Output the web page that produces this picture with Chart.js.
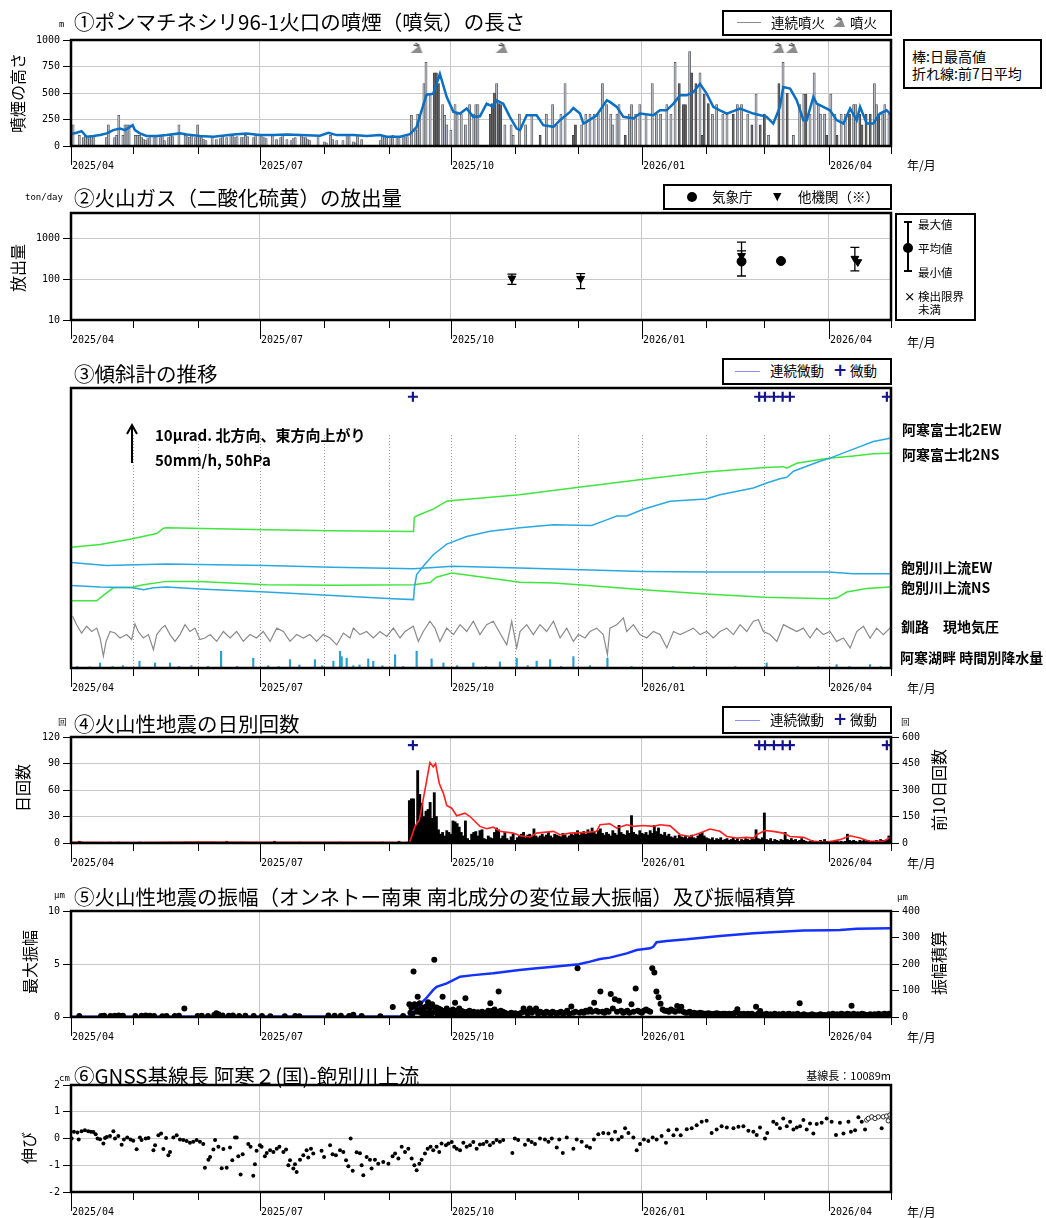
<!DOCTYPE html>
<html lang="ja">
<head>
<meta charset="utf-8">
<title>ポンマチネシリ 火山活動経過図</title>
<script src="https://cdn.jsdelivr.net/npm/chart.js@4.4.1/dist/chart.umd.min.js"></script>
<style>
html,body{margin:0;padding:0;background:#fff;}
#page{position:relative;width:1046px;height:1218px;overflow:hidden;background:#fff;font-family:"Noto Sans CJK JP","Noto Sans",sans-serif;color:#000;}
canvas{position:absolute;left:0;}
.tx{position:absolute;white-space:nowrap;line-height:1;}
.title{font-size:20.5px;}
.unit{font-family:"DejaVu Sans Mono",monospace;font-size:9px;}
.ylab{font-size:16px;transform:translate(-50%,-50%) rotate(-90deg);}
.ym{font-size:12px;}
.box{position:absolute;border:2px solid #000;background:#fff;box-sizing:border-box;}
.leg{font-size:13.5px;}
.side{font-size:14px;font-weight:700;}
.cross{color:#14148c;font-weight:700;font-size:17px;font-family:"DejaVu Sans",sans-serif;}
.sm{font-size:11.5px;}
</style>
</head>
<body>
<div id="page">
<canvas id="c1" width="1046" height="180" style="top:0px"></canvas>
<canvas id="c2" width="1046" height="175" style="top:180px"></canvas>
<canvas id="c3" width="1046" height="345" style="top:355px"></canvas>
<canvas id="c4" width="1046" height="180" style="top:700px"></canvas>
<canvas id="c5" width="1046" height="170" style="top:880px"></canvas>
<canvas id="c6" width="1046" height="168" style="top:1050px"></canvas>

<!-- panel 1 -->
<div class="tx unit" style="left:59px;top:20px">m</div>
<div class="tx title" style="left:74px;top:10.5px">①ポンマチネシリ96-1火口の噴煙（噴気）の長さ</div>
<div class="box" style="left:722px;top:10px;width:170px;height:26px"></div>
<div style="position:absolute;left:737px;top:22px;width:24px;border-top:1.5px solid #8a8a8a"></div>
<div class="tx leg" style="left:771px;top:15.5px">連続噴火</div>
<span id="legIcon" style="position:absolute;left:832px;top:16px"></span>
<div class="tx leg" style="left:850px;top:15.5px">噴火</div>
<div class="box" style="left:903px;top:39px;width:139px;height:50px"></div>
<div class="tx" style="left:912px;top:49px;font-size:14px">棒:日最高値</div>
<div class="tx" style="left:912px;top:66px;font-size:14px">折れ線:前7日平均</div>
<div class="tx ylab" style="left:17px;top:93px">噴煙の高さ</div>
<div class="tx ym" style="left:907px;top:158.5px">年/月</div>

<!-- panel 2 -->
<div class="tx unit" style="left:25px;top:193px">ton/day</div>
<div class="tx title" style="left:74px;top:186.5px">②火山ガス（二酸化硫黄）の放出量</div>
<div class="box" style="left:663px;top:184px;width:229px;height:26px"></div>
<div style="position:absolute;left:687px;top:192px;width:10px;height:10px;border-radius:50%;background:#000"></div>
<div class="tx leg" style="left:712px;top:189.5px">気象庁</div>
<div class="tx" style="left:773px;top:191px;font-size:11px;font-family:'DejaVu Sans',sans-serif">▼</div>
<div class="tx leg" style="left:798px;top:189.5px">他機関（※）</div>
<div class="box" style="left:895px;top:213px;width:81px;height:108px"></div>
<div style="position:absolute;left:907px;top:221px;width:1.5px;height:50px;background:#000"></div>
<div style="position:absolute;left:904px;top:221px;width:8px;height:1.5px;background:#000"></div>
<div style="position:absolute;left:904px;top:270px;width:8px;height:1.5px;background:#000"></div>
<div style="position:absolute;left:903px;top:243px;width:10px;height:10px;border-radius:50%;background:#000"></div>
<div class="tx sm" style="left:918px;top:219px">最大値</div>
<div class="tx sm" style="left:918px;top:243px">平均値</div>
<div class="tx sm" style="left:918px;top:267px">最小値</div>
<div class="tx sm" style="left:904px;top:291px;font-weight:700">×</div>
<div class="tx sm" style="left:918px;top:291px">検出限界</div>
<div class="tx sm" style="left:918px;top:304px">未満</div>
<div class="tx ylab" style="left:17px;top:268px">放出量</div>
<div class="tx ym" style="left:907px;top:335.5px">年/月</div>

<!-- panel 3 -->
<div class="tx title" style="left:74px;top:362.5px">③傾斜計の推移</div>
<div class="box" style="left:722px;top:358px;width:170px;height:27px"></div>
<div style="position:absolute;left:735px;top:371px;width:25px;border-top:1.5px solid #8c8cff"></div>
<div class="tx leg" style="left:770px;top:364px">連続微動</div>
<div class="tx cross" style="left:833px;top:362px">+</div>
<div class="tx leg" style="left:850px;top:364px">微動</div>
<div class="tx" style="left:155px;top:427px;font-size:15px;font-weight:700">10μrad. 北方向、東方向上がり</div>
<div class="tx" style="left:155px;top:452px;font-size:15px;font-weight:700">50mm/h, 50hPa</div>
<div class="tx side" style="left:902px;top:422px">阿寒富士北2EW</div>
<div class="tx side" style="left:902px;top:447px">阿寒富士北2NS</div>
<div class="tx side" style="left:901px;top:560px">飽別川上流EW</div>
<div class="tx side" style="left:901px;top:580px">飽別川上流NS</div>
<div class="tx side" style="left:901px;top:619px">釧路　現地気圧</div>
<div class="tx side" style="left:900px;top:650px">阿寒湖畔 時間別降水量</div>
<div class="tx ym" style="left:907px;top:681.5px">年/月</div>

<!-- panel 4 -->
<div class="tx unit" style="left:58px;top:718px">回</div>
<div class="tx title" style="left:74px;top:712.5px">④火山性地震の日別回数</div>
<div class="box" style="left:722px;top:706px;width:170px;height:28px"></div>
<div style="position:absolute;left:735px;top:720px;width:25px;border-top:1.5px solid #8c8cff"></div>
<div class="tx leg" style="left:770px;top:712.5px">連続微動</div>
<div class="tx cross" style="left:833px;top:711px">+</div>
<div class="tx leg" style="left:850px;top:712.5px">微動</div>
<div class="tx unit" style="left:901px;top:718px">回</div>
<div class="tx ylab" style="left:22px;top:788px">日回数</div>
<div class="tx ylab" style="left:938px;top:790px">前10日回数</div>
<div class="tx ym" style="left:907px;top:856.5px">年/月</div>

<!-- panel 5 -->
<div class="tx unit" style="left:54px;top:891px">μm</div>
<div class="tx title" style="left:74px;top:885.5px">⑤火山性地震の振幅（オンネトー南東 南北成分の変位最大振幅）及び振幅積算</div>
<div class="tx unit" style="left:897px;top:893px">μm</div>
<div class="tx ylab" style="left:29px;top:962px">最大振幅</div>
<div class="tx ylab" style="left:938px;top:963px">振幅積算</div>
<div class="tx ym" style="left:907px;top:1030.5px">年/月</div>

<!-- panel 6 -->
<div class="tx unit" style="left:59px;top:1074px">cm</div>
<div class="tx title" style="left:74px;top:1064.5px">⑥GNSS基線長 阿寒２(国)-飽別川上流</div>
<div class="tx" style="right:155px;top:1069.5px;font-size:11px">基線長：10089m</div>
<div class="tx ylab" style="left:28px;top:1148px">伸び</div>
<div class="tx ym" style="left:907px;top:1205.5px">年/月</div>
</div>

<script>
// ---- time axis: days counted from 2025-04-01 ----
const MONTH_STARTS = [0, 30, 61, 91, 122, 153, 183, 214, 244, 275, 306, 334, 365, 395];
const QUARTER_LABELS = {0: '2025/04', 91: '2025/07', 183: '2025/10', 275: '2026/01', 365: '2026/04'};
const X_MAX = 395;

// ---- ① plume height (m): daily maximum, split by bar shade ----
const smokeLight = [[0,200],[1,200],[4,100],[6,80],[7,100],[8,70],[9,90],[10,100],[11,90],[17,80],[18,200],[21,80],[22,100],[23,290],[25,100],[26,200],[27,200],[28,200],[31,100],[32,100],[33,100],[34,80],[35,60],[36,50],[37,70],[38,80],[40,100],[41,90],[43,80],[44,100],[45,50],[47,80],[48,100],[49,90],[52,200],[55,100],[56,90],[57,80],[58,100],[60,80],[61,200],[62,90],[63,80],[64,60],[65,50],[68,80],[70,60],[72,70],[73,100],[75,80],[77,100],[78,100],[79,80],[80,90],[82,80],[83,80],[84,100],[85,90],[88,80],[89,100],[91,100],[92,90],[93,80],[94,70],[97,100],[99,60],[101,80],[102,100],[104,60],[106,50],[107,70],[108,80],[111,100],[112,80],[113,80],[114,60],[115,50],[119,100],[122,40],[123,30],[125,100],[126,60],[128,50],[131,50],[133,100],[134,90],[136,40],[137,30],[138,100],[140,60],[149,50],[150,100],[151,90],[152,80],[154,90],[155,100],[157,80],[158,90],[160,100],[161,80],[162,90],
  [164,290],[166,150],[167,300],[168,290],[170,590],[171,790],[173,490],[179,390],[180,290],[181,200],[183,150],[185,390],[186,300],[188,300],[190,200],[192,390],[194,300],[195,390],[196,390],[205,590],[209,200],[212,200],[213,100],[216,300],[219,200],[222,300],[229,300],[232,390],[234,200],[236,300],[238,590],[246,200],[248,300],[250,300],[252,300],[254,300],[256,590],[258,390],[260,300],[261,200],[263,300],[264,390],[269,300],[270,390],[272,300],[274,390],[277,300],[280,590],[282,300],[284,300],[287,390],[289,300],[291,790],[298,890],[303,690],[309,300],[311,390],[314,300],[316,300],[321,390],[323,390],[326,300],[330,490],[336,100],[343,790],[348,100],[351,390],[353,490],[356,300],[358,690],[360,390],[361,300],[363,300],[366,490],[368,300],[371,300],[373,300],[377,390],[378,390],[387,590],[388,390],[391,300],[392,390],[394,300]];
const smokeDark = [[175,690],[176,690],[177,590],[202,300],[203,400],[204,500],[206,400],[207,390],[226,100],[242,100],[243,200],[267,100],[293,590],[295,390],[296,390],[299,690],[301,590],[304,100],[305,490],[307,400],[319,300],[328,200],[332,200],[334,300],[341,590],[345,500],[354,490],[364,100],[369,100],[375,300],[380,300],[381,200],[383,300],[385,300],[389,300]];
// 7-day running mean (m)
const smokeMean7 = [[0,112],[2.7,125],[5.1,140],[7.5,87],[10.8,94],[14,103],[17.2,119],[20.4,150],[23.6,165],[26,150],[29.7,197],[30.8,150],[33.2,119],[36.4,94],[41.3,94],[46.1,103],[52.5,119],[55.7,109],[62.1,94],[68.6,87],[78.2,109],[84.6,119],[91,103],[97.5,103],[103.9,109],[110.3,103],[119.9,97],[124,125],[128,103],[136,103],[142.4,94],[148.8,103],[152.1,87],[158.5,87],[163.3,112],[166.5,181],[168.9,337],[171.3,484],[174.5,494],[177.7,681],[181,462],[184.2,322],[187.4,306],[190.6,353],[193.8,275],[197,281],[200.2,400],[203.4,369],[205,431],[208.2,400],[211.4,275],[214.7,165],[216.3,150],[219.5,290],[224.3,290],[227.5,197],[232.4,181],[235.6,244],[240.4,322],[242,359],[245.2,306],[246.8,212],[248.4,228],[253.2,290],[258.1,431],[259.6,416],[262.9,369],[266.1,275],[270.9,259],[274.1,306],[280.5,290],[283.7,337],[286.9,337],[290.2,400],[293.4,478],[296.6,478],[299.8,509],[303,587],[306.2,494],[309.4,369],[312.6,337],[315.9,306],[322.3,353],[328.7,306],[335.1,275],[338.3,212],[341.5,369],[343.1,556],[346.4,541],[349.6,431],[352.8,244],[354.4,244],[357.6,462],[359.2,400],[362.4,369],[365.6,337],[368.8,244],[372.1,212],[375.3,353],[378.5,244],[380.1,369],[383.3,212],[386.5,212],[389.7,306],[392.9,337],[394.5,306]];
const eruptionDays = [166.4, 207.4, 340.7, 347.2];

// ---- ② SO2 emission (ton/day) ----
const gasJmaDays = [323, 342];
const gasJmaMean = [271, 280];
const gasJmaMin  = [120, null];
const gasJmaMax  = [815, null];
const gasOtherDays = [212.4, 245.5, 323, 377.6, 379];
const gasOtherMean = [105, 103, 375, 320, 265];
const gasOtherMin  = [75, 59, 300, 160, null];
const gasOtherMax  = [133, 137, 497, 600, null];

// ---- ③ tilt (µrad, relative); pressure and rain on the same scale: 50 hPa = 50 mm/h = 10 µrad ----
const tiltFujiEW = [[0,21.7],[14,21.3],[30,21.1],[35,20.6],[39.7,21.1],[46,21.3],[62,20.8],[94,20.0],[126,19.1],[155,18.2],[165,18.0],[165.4,21.1],[166.5,24.6],[170,27.0],[174.5,29.8],[181,32.6],[190.6,34.6],[201.8,36.0],[216.3,36.9],[232.4,37.7],[244.6,37.6],[250.8,37.5],[258,39.0],[262.9,40.0],[267.7,40.0],[275.7,41.8],[288.6,43.9],[305.9,44.5],[312.6,45.6],[328.7,47.4],[335.1,48.7],[341.5,49.8],[344.8,50.2],[348,51.8],[360.8,54.4],[365,55.1],[376.9,57.6],[386.5,59.6],[394.5,60.5]];
const tiltFujiNS = [[0,31.8],[14,32.5],[28.4,33.9],[41.3,35.4],[44.5,36.8],[46,36.9],[94,36.4],[126,36.1],[165,35.9],[165.4,39.7],[168,40.4],[174.5,41.8],[181,43.9],[184,44.1],[216,45.6],[244.6,47.6],[275.7,49.7],[305.9,51.6],[334.2,52.8],[343.1,53.0],[344.8,52.6],[349.6,53.9],[360.8,54.9],[365,55.2],[376.9,55.8],[386.5,56.4],[394.5,56.5]];
const tiltRiverEW = [[0,27.8],[17,27.0],[46,27.4],[94,27.0],[126,26.5],[165,26.1],[184,26.8],[216,26.3],[275.7,25.4],[305.9,25.3],[365,25.3],[376.9,24.8],[394.5,24.8]];
const tiltRiverNS = [[0,17.7],[12.4,17.7],[15.6,19.1],[20.4,21.1],[30,21.3],[34.8,21.9],[46,22.8],[62,22.8],[94,21.9],[126,21.8],[165,21.9],[173,22.5],[176,23.9],[183.4,25.0],[198.6,23.9],[216.3,22.6],[232.4,22.4],[244.6,21.9],[275.7,20.6],[305.9,19.5],[334.2,18.6],[365,18.2],[368.8,18.4],[373.7,20.0],[383.3,20.9],[394.5,21.3]];
const pressureTrace = [[0.8,13.6],[2.7,11.4],[5.1,9.2],[7.5,11.0],[10,9.6],[12.4,10.5],[14,7.9],[15.6,3.1],[16.9,7.0],[18.8,9.6],[21.2,9.2],[23.6,7.9],[26.8,8.8],[29.2,7.5],[30.8,11.6],[32.4,9.6],[34.8,7.9],[37.3,8.8],[39.7,4.8],[41.3,8.8],[43.7,10.5],[45.3,11.2],[47.7,8.8],[50.1,7.0],[52.5,8.8],[54.9,11.4],[57.3,9.6],[59.7,10.5],[62.1,7.5],[64.5,7.9],[67,8.8],[70.2,7.0],[73.4,9.6],[76.6,7.9],[79.8,9.6],[83,7.0],[86.2,8.8],[89.4,7.9],[92.6,9.6],[95.9,7.0],[99.1,10.5],[102.3,9.6],[105.5,7.0],[108.7,8.8],[111.9,7.9],[115.1,8.8],[118.3,7.0],[121.5,8.8],[124.8,7.9],[128,6.1],[131.2,9.2],[134.4,7.9],[136,10.5],[139.2,8.8],[142.4,9.6],[145.6,7.9],[148.8,9.6],[152.1,8.3],[155.3,10.5],[158.5,7.9],[160.9,9.6],[164.9,11.0],[167.3,7.0],[169.7,9.6],[172.9,12.3],[175.3,10.5],[177.7,7.0],[181,10.5],[184.2,8.8],[187.4,11.4],[190.6,9.6],[193.8,12.3],[197,8.8],[200.2,11.4],[203.4,12.3],[206.6,9.2],[209.9,6.1],[212.3,12.3],[214.7,5.3],[216.3,9.6],[219.5,11.4],[222.7,8.8],[225.9,11.4],[229.1,9.6],[232.4,12.3],[235.6,7.9],[238.8,10.5],[242,7.0],[244.4,8.8],[247.6,7.9],[250,9.6],[253.2,10.5],[256.4,8.8],[258.4,3.5],[259.6,10.5],[262.9,11.4],[266.1,13.2],[267.7,9.6],[270.9,11.4],[274.1,8.8],[277.3,7.9],[280.5,9.6],[283.7,8.8],[287,5.3],[290.2,9.6],[293.4,8.8],[296.6,9.6],[299.8,10.5],[303,8.8],[306.2,9.6],[309.4,7.9],[312.6,9.6],[315.9,10.5],[319.1,8.8],[322.3,11.4],[325.5,9.6],[328.7,12.3],[331.1,12.7],[333.5,9.6],[336.7,8.8],[340,7.0],[343.2,11.4],[346.4,10.5],[349.6,9.6],[352.8,10.5],[356,7.9],[359.2,10.5],[362.4,8.8],[365.6,9.6],[368.8,7.0],[372.1,7.9],[375.3,5.3],[378.5,9.6],[381.7,11.0],[384.9,7.9],[388.1,10.5],[391.3,8.8],[394.5,10.5]];
const rainHourly = [[3,2],[9,1.5],[14,6.6],[20,2],[25,3],[33,9],[40.5,6.6],[47.7,6.6],[52,2],[58,3],[66,2],[72.3,22],[80,2],[87.8,13],[95,3],[100,2],[105.5,11],[110,4],[117.5,11],[121,3],[126.4,9],[129.6,22],[130.4,15],[132.8,13],[136,3],[139,4],[143.2,12],[145.6,9],[150,3],[156.1,17.5],[160,2],[166.5,22],[173.7,12],[179.4,6.6],[186,3],[193.8,6.6],[200,2],[206.6,8],[214.7,13],[220,3],[224.3,9],[230.8,11],[236,2],[242,15],[250,3],[258.4,13],[270,2],[290,2],[300,2],[320,2],[335.1,6.6],[350,2],[360,2],[368.8,4.4],[375,2],[384.9,4.4],[390,2]];
const tremorDays = [164.7, 331.5, 334.3, 338.6, 342.8, 346.3, 393];

// ---- ④ volcanic earthquakes per day (from 2025-04-01) and 10-day totals ----
const quakeCounts = [
  0,0,0,0,2,1,0,0,0,0, 0,0,0,0,0,0,0,0,0,1, 0,0,0,1,0,0,0,0,0,0, 0,0,0,1,0,0,0,0,0,0,
  0,0,0,0,0,0,0,0,1,0, 0,0,0,0,0,1,0,0,0,0, 0,0,0,0,0,0,0,0,1,0, 0,0,0,0,0,2,0,0,0,0,
  0,0,1,0,0,0,0,0,0,0, 0,0,0,0,0,0,0,0,2,0, 0,0,0,0,0,0,0,0,0,0, 1,0,0,0,0,0,0,0,0,0,
  0,0,0,0,0,0,0,0,0,0, 1,0,0,0,0,0,0,0,0,0, 0,0,0,0,0,0,0,0,0,0, 1,0,0,0,0,0,0,0,2,0,
  0,0,1,48,50,50,20,82,55,45, 30,36,38,46,28,57,30,15,10,12, 8,14,12,10,25,24,22,18,12,8,
  25,5,3,10,12,13,8,14,15,5, 4,8,6,5,12,17,15,5,8,12, 5,3,7,10,3,6,8,10,12,6,
  9,10,7,16,8,6,8,10,7,9, 12,8,6,10,9,8,7,11,9,6, 8,10,9,12,14,9,11,13,10,15,
  12,17,12,10,14,16,11,9,12,10, 8,14,11,9,20,12,10,9,14,11, 31,12,10,9,14,11,10,12,9,14,
  11,20,13,17,10,9,12,8,10,7, 6,8,5,9,7,6,8,5,7,9, 6,5,8,10,12,8,6,5,4,6,
  3,5,4,6,3,4,5,3,4,6, 3,5,2,4,3,5,4,3,6,4, 15,5,4,6,34,4,3,5,2,4,
  3,2,4,3,12,4,3,5,3,4, 2,3,5,3,2,1,2,3,1,2, 1,3,2,4,2,1,2,1,2,3,
  1,2,1,2,10,3,2,3,2,1, 3,2,4,2,3,2,1,2,3,2, 4,3,2,3,8
];
const quake10Day = [[0,4],[30,3],[60,5],[90,4],[120,4],[150,4],[162,3],[163,0],[165.7,94],[167.8,131],[170.5,300],[172.9,456],[174.5,431],[175.6,450],[177.4,337],[179.4,281],[181,212],[183.4,197],[185.8,154],[189.8,169],[192.2,150],[197,94],[200.2,81],[203.4,90],[206.6,66],[213,56],[216.3,41],[221.1,34],[224.3,56],[232.4,66],[235.6,47],[240.4,56],[248.4,60],[253.2,66],[254.8,103],[259.6,109],[262.9,84],[267.7,103],[270.9,94],[275.7,99],[280.5,94],[283.7,103],[288.6,97],[293.4,47],[298.2,37],[303,56],[307.8,79],[312.6,66],[315.9,37],[320.7,28],[325.5,32],[328.7,28],[330.3,47],[334.3,71],[338.3,66],[343.1,56],[346.4,37],[352.8,32],[357.6,9],[364,4],[370.4,19],[375.3,41],[380.1,28],[384.9,9],[391.3,9],[394.5,32]];

// ---- ⑤ maximum amplitude (µm) and cumulative amplitude (µm) ----
const ampQuiet = [[4,0.1],[14.5,0.1],[16,0.12],[19,0.1],[21,0.12],[23,0.15],[25,0.12],[31,0.1],[34,0.12],[36,0.15],[38,0.12],[40,0.1],[44,0.08],[46,0.1],[50,0.1],[52,0.12],[54.6,0.8],[61,0.1],[63,0.12],[66,0.1],[69,0.18],[70,0.35],[71,0.25],[73,0.15],[76,0.12],[78,0.15],[81,0.1],[84,0.12],[88,0.1],[92,0.1],[96,0.08],[103,0.08],[108,0.1],[110,0.08],[124,0.15],[127,0.12],[130,0.12],[134,0.1],[136,0.22],[140,0.1],[149,0.08],[155,0.95],[160,0.1]];
const ampFirstDay = 163;
const ampDailyMax = [
  1.2,0.9,4.3,1.0,1.9,1.3,0.9,0.8,1.0,1.4, 0.9,1.2,5.4,0.9,0.8,0.7,1.9,0.6,0.8,0.5,
  0.6,0.7,1.35,0.6,0.8,0.6,0.5,1.76,0.5,0.6, 0.4,0.5,0.35,0.45,0.3,0.5,0.4,0.3,0.6,1.3,
  0.6,0.7,0.5,2.4,0.6,0.5,0.4,0.3,0.25,0.4, 0.3,0.35,0.2,0.3,
  0.4,0.8,0.5,0.3,0.8,0.4,0.6,0.8,0.3,0.5, 0.4,0.3,0.5,0.4,0.3,0.5,0.4,0.3,0.4,0.5,
  0.3,0.4,0.6,0.3,1.0,0.4,0.5,4.6,0.4,0.5, 0.4,0.6,0.5,0.7,0.5,1.35,0.6,0.5,2.4,0.5,
  0.4,0.6,0.5,2.17,0.8,1.67,0.5,1.54,0.6,0.4, 0.5,0.6,0.4,1.2,0.5,2.7,0.6,0.5,0.4,0.6,
  0.7,0.6,0.5,4.6,4.2,2.4,1.86,1.26,0.7,0.6, 0.6,0.5,0.7,0.6,0.5,1.04,0.6,0.97,0.5,0.4,
  0.4,0.5,0.3,0.4,0.35,0.3,0.4,0.35,0.3,0.3, 0.35,0.3,0.25,0.3,0.35,0.3,0.25,0.3,0.3,0.25,
  0.3,0.25,0.3,0.4,0.72,0.3,0.25,0.3,0.2,0.3, 0.25,0.3,0.2,0.97,0.3,0.57,0.25,0.2,0.3,0.2,
  0.25,0.2,0.3,0.2,0.25,0.2,0.3,0.2,0.25,0.3, 0.2,0.25,0.2,0.3,1.3,0.2,0.25,0.2,0.15,0.2,
  0.25,0.2,0.15,0.2,0.25,0.2,0.2,0.15,0.25,0.2, 0.3,0.2,0.25,0.2,0.3,0.25,0.2,0.3,0.25,1.07,
  0.3,0.2,0.25,0.2,0.3,0.25,0.2,0.2,0.25,0.2, 0.25,0.2,0.3,0.2,0.25,0.3,0.2,0.3
];
const ampDailyLow = [
  0.4,0.3,1.2,0.5,0.6,0.4,0.3,0.4,0.3,0.5, 0.3,0.4,0.8,0.3,0.3,0.3,0.5,0.2,0.3,0.2,
  0.2,0.3,0.4,0.2,0.3,0.2,0.2,0.4,0.2,0.2, 0.15,0.2,0.1,0.2,0.1,0.2,0.15,0.1,0.2,0.3,
  0.2,0.3,0.2,0.4,0.2,0.2,0.15,0.1,0.1,0.15
];
const ampCumulative = [[0,1],[163,3],[164.5,14],[167.8,45],[171,70],[174.5,102],[176.1,114],[181,127],[187.4,152],[193.8,158],[203.4,165],[216,177],[224.3,184],[232.4,190],[244.6,199],[250,209],[254.8,219],[259.6,224],[267.7,240],[272.5,253],[278.9,259],[280.5,265],[282.1,282],[287,287],[296.6,293],[312.6,306],[328.7,316],[335.1,319],[352.8,326],[365,327],[370.4,328],[378.5,333],[394.5,335]];

// ---- ⑥ GNSS baseline change (cm); the last days are preliminary ----
const gnssFinal = [[0.3,0],[1.4,0.25],[3.1,0.22],[3.7,-0.04],[5.1,0.27],[6.7,0.31],[8.3,0.27],[9.6,0.25],[10.8,0.24],[11.9,0.16],[12.8,0],[14,-0.03],[15.6,-0.19],[16.4,0.02],[17.2,0.06],[18.8,0.09],[20.4,0.27],[21.2,0],[22.8,0.09],[24.4,-0.23],[25.5,-0.04],[27.1,0.04],[28.7,-0.04],[30,-0.08],[31.6,-0.4],[33.2,0.04],[34,-0.06],[36,0],[37.3,0.02],[39.7,-0.44],[40.5,-0.25],[42.1,0.12],[43.4,0.19],[44.5,-0.39],[45.8,0.02],[46.9,-0.63],[47.7,-0.5],[49.3,0.04],[50.9,0.12],[52.5,-0.04],[54.1,-0.06],[55.7,-0.09],[57.3,-0.16],[58.9,-0.12],[60.5,-0.06],[62.1,-0.12],[63.7,-0.21],[64.5,-1.09],[66.2,-0.79],[67,-0.69],[68.6,-0.41],[69.4,-0.06],[71,-0.31],[72.6,-1.11],[73.4,-0.39],[75,-1.09],[76.6,-0.34],[77.7,-0.81],[79,0.04],[79.8,0.04],[80.6,-0.66],[81.7,-1.35],[82.7,-0.59],[85.4,-0.21],[86.5,-0.31],[87.8,-1.39],[88.6,-0.96],[89.4,-0.46],[91,-0.25],[91.8,-0.31],[93.4,-0.66],[94.3,-0.54],[95.9,-0.44],[97.5,-0.5],[99.1,-0.38],[100.4,-0.31],[102.3,-0.5],[103.6,-0.41],[104.7,-1],[105.5,-0.81],[107.1,-1.12],[107.9,-0.96],[108.7,-1.25],[110.3,-0.79],[111.9,-0.63],[113.5,-0.44],[114.3,-0.71],[115.6,-0.38],[116.7,-0.56],[120.7,-0.46],[121.9,-0.69],[124.8,-0.25],[126,-0.59],[127.6,-0.63],[129.6,-0.44],[131.2,-0.5],[132.5,-0.81],[133.6,-1.04],[134.7,0],[135.7,-1.21],[137.6,-0.51],[139.2,-0.55],[140,-1],[140.8,-1.37],[142.4,-0.69],[144,-0.79],[144.8,-1.12],[146.4,-0.79],[148,-0.94],[150.4,-0.88],[152.9,-0.94],[154.9,-0.66],[156.1,-0.56],[157.7,-0.75],[159.3,-0.31],[160.9,-0.5],[162.5,-0.38],[164.1,-0.75],[165.4,-1],[166.5,-1.19],[167.8,-0.94],[168.9,-0.79],[170.5,-0.56],[171.8,-0.38],[173.2,-0.31],[174.5,-0.44],[176.1,-0.31],[177.4,-0.5],[178.5,-0.19],[180.6,-0.25],[181.8,-0.19],[183.4,-0.13],[184.6,-0.31],[185.8,-0.38],[187.4,-0.44],[189,-0.16],[190.6,-0.31],[192.2,-0.25],[193.8,-0.13],[195.4,-0.38],[197,-0.22],[198.6,-0.21],[200.2,-0.12],[201.8,-0.25],[203.4,-0.16],[205,-0.06],[206.6,-0.12],[208.2,-0.06],[212.6,-0.54],[213.8,0],[215.4,-0.06],[218.7,-0.23],[220.3,-0.06],[221.9,-0.13],[223.5,-0.21],[225.9,0],[228.3,-0.04],[230,-0.12],[231.6,0],[234,-0.34],[235.2,-0.04],[236.9,-0.54],[238.8,0.04],[242,-0.38],[243.6,-0.04],[246,-0.12],[248.4,-0.29],[250,-0.35],[251.9,-0.04],[254,0.16],[256.4,0.21],[258.9,0.19],[260.5,-0.04],[262.1,0.25],[263.7,-0.04],[265.3,0.06],[266.9,0.38],[268.5,0.21],[270.9,0.04],[272.5,-0.44],[274.1,-0.21],[276,-0.04],[278.1,-0.09],[280.2,0.04],[282.1,-0.04],[284.5,0.09],[286.6,-0.16],[287.8,0.31],[290.2,0.12],[291.8,0.34],[293.7,0.12],[296.6,0.35],[299,0.38],[301.4,0.5],[303.8,0.63],[306.2,0.66],[308.6,0.21],[311,0.34],[313.4,0.46],[315.9,0.41],[319.1,0.38],[321.5,0.44],[323.9,0.46],[326.3,0.29],[328.7,0.25],[330.3,0.13],[331.9,0.41],[334.3,0],[335.4,0.21],[338.3,0.63],[339.9,0.54],[341.5,0.38],[343.1,0.75],[344.8,0.46],[346.4,0.63],[348,0.34],[349.6,0.41],[351.2,0.46],[352.8,0.69],[354.4,0.34],[356,0.56],[357.6,0.19],[359.2,0.54],[361.6,0.59],[364,0.75],[366.4,0.63],[368.5,0.13],[370.4,0.59],[372.1,0.19],[374.5,0.63],[375.7,0.25],[377.7,0.31],[379.3,0.79],[380.9,0.63],[382.5,0.34],[390.5,0.38]];
const gnssPreliminary = [[383.3,0.69],[384.1,0.75],[385.7,0.81],[387.3,0.75],[388.9,0.81],[391.3,0.81],[392.9,0.84],[393.7,0.66],[394.5,0.88]];

// ------------------------------------------------------------------
const TICK_FONT = {family: "'DejaVu Sans Mono', monospace", size: 10};
const pts = a => a.map(([x, y]) => ({x, y}));
const GRID = '#c8c8c8';

function eruptionIcon() {
  const c = document.createElement('canvas');
  c.width = 14; c.height = 12;
  const g = c.getContext('2d');
  g.fillStyle = '#8c8c8c';
  g.beginPath(); g.moveTo(1, 11); g.lineTo(13, 11); g.lineTo(10, 3.5); g.closePath(); g.fill();
  g.strokeStyle = '#5a5a5a'; g.lineWidth = 1.3;
  g.beginPath(); g.moveTo(10, 3.5); g.lineTo(6, 1); g.moveTo(9, 4); g.lineTo(4, 3); g.stroke();
  return c;
}
const ICON = eruptionIcon();
document.getElementById('legIcon').appendChild(eruptionIcon());

// time axis: the scale supplies positions and the quarterly grid; marks and labels are painted by the frame plugin
function xAxis(gridOnArea) {
  return {
    type: 'linear', position: 'bottom', min: 0, max: X_MAX, offset: false,
    afterBuildTicks: s => { s.ticks = MONTH_STARTS.map(v => ({value: v})); },
    afterFit: s => { s.height = 0; },
    grid: {
      offset: false,
      color: c => (gridOnArea && c.tick && QUARTER_LABELS[c.tick.value] !== undefined) ? GRID : 'rgba(0,0,0,0)',
      lineWidth: 1, drawTicks: false
    },
    border: {display: false},
    ticks: {display: false}
  };
}
function leftAxis(min, max, step, extra) {
  return Object.assign({
    type: 'linear', position: 'left', min, max,
    afterFit: s => { s.width = 71; },
    ticks: {stepSize: step, color: '#000', font: TICK_FONT, padding: 3, callback: v => String(v)},
    grid: {color: GRID, lineWidth: 1, tickLength: 8, tickColor: '#000'},
    border: {display: false}
  }, extra || {});
}
function rightAxis(min, max, step) {
  return {
    type: 'linear', position: 'right', min, max,
    afterFit: s => { s.width = 155; },
    ticks: {stepSize: step, color: '#000', font: TICK_FONT, padding: 3, callback: v => String(v)},
    grid: {drawOnChartArea: false, tickLength: 8, tickColor: '#000'},
    border: {display: false}
  };
}

// frame around the plot area, month ticks and quarter labels below it
const frame = {
  id: 'frame',
  afterDraw(chart) {
    const {ctx, chartArea: a} = chart;
    const x = chart.scales.x;
    ctx.save();
    ctx.strokeStyle = '#000';
    ctx.fillStyle = '#000';
    ctx.lineWidth = 1;
    ctx.font = "10px 'DejaVu Sans Mono', monospace";
    ctx.textAlign = 'left';
    ctx.textBaseline = 'middle';
    ctx.beginPath();
    MONTH_STARTS.forEach(v => {
      const px = Math.round(x.getPixelForValue(v)) + 0.5;
      const lab = QUARTER_LABELS[v];
      ctx.moveTo(px, a.bottom); ctx.lineTo(px, a.bottom + (lab ? 19 : 8));
      if (lab) ctx.fillText(lab, px + 0.5, a.bottom + 20);
    });
    ctx.stroke();
    ctx.lineWidth = 2.5;
    ctx.strokeRect(a.left, a.top, a.right - a.left, a.bottom - a.top);
    ctx.restore();
  }
};

function makeChart(id, padTop, padBottom, padLeft, hasRight, scales, datasets, plugins) {
  return new Chart(document.getElementById(id), {
    type: 'line',
    data: {datasets},
    options: {
      responsive: false, animation: false, devicePixelRatio: 1,
      layout: {padding: {top: padTop, bottom: padBottom, left: padLeft, right: hasRight ? 0 : 155}},
      plugins: {legend: {display: false}, tooltip: {enabled: false}},
      scales
    },
    plugins: [frame].concat(plugins || [])
  });
}

// ① plume height
makeChart('c1', 40, 34, 0, false,
  {x: xAxis(true), y: leftAxis(0, 1000, 250)},
  [
    {type: 'scatter', data: eruptionDays.map(d => ({x: d, y: 925})), pointStyle: ICON, pointRadius: 7, order: 0},
    {type: 'line', data: pts(smokeMean7), borderColor: '#0b6fc3', borderWidth: 2.5, pointRadius: 0, tension: 0, order: 1},
    {type: 'bar', data: pts(smokeDark), backgroundColor: '#636363', borderColor: '#3c3c3c', borderWidth: 0.7, barThickness: 2.2, grouped: false, order: 2},
    {type: 'bar', data: pts(smokeLight), backgroundColor: '#b2b8c4', borderColor: '#4e4e4e', borderWidth: 0.7, barThickness: 2.2, grouped: false, order: 3}
  ]);

// ② SO2 emission
const gasErrorBars = {
  id: 'gasErr',
  afterDatasetsDraw(chart) {
    const {ctx} = chart, x = chart.scales.x, y = chart.scales.y;
    const draw = (days, lo, hi) => days.forEach((d, i) => {
      if (lo[i] == null || hi[i] == null) return;
      const px = x.getPixelForValue(d), p1 = y.getPixelForValue(lo[i]), p2 = y.getPixelForValue(hi[i]);
      ctx.beginPath();
      ctx.moveTo(px, p1); ctx.lineTo(px, p2);
      ctx.moveTo(px - 4.5, p1); ctx.lineTo(px + 4.5, p1);
      ctx.moveTo(px - 4.5, p2); ctx.lineTo(px + 4.5, p2);
      ctx.stroke();
    });
    ctx.save();
    ctx.strokeStyle = '#000'; ctx.lineWidth = 1.3;
    draw(gasJmaDays, gasJmaMin, gasJmaMax);
    draw(gasOtherDays, gasOtherMin, gasOtherMax);
    ctx.restore();
  }
};
makeChart('c2', 33, 35, 0, false,
  {x: xAxis(true), y: {
    type: 'logarithmic', position: 'left', min: 10, max: 4200,
    afterFit: s => { s.width = 71; },
    afterBuildTicks: s => { s.ticks = [10, 100, 1000].map(v => ({value: v})); },
    ticks: {color: '#000', font: TICK_FONT, padding: 3, callback: v => String(v)},
    grid: {color: GRID, lineWidth: 1, tickLength: 8, tickColor: '#000'},
    border: {display: false}
  }},
  [
    {type: 'scatter', data: gasJmaDays.map((d, i) => ({x: d, y: gasJmaMean[i]})), pointStyle: 'circle', pointRadius: 4.5, backgroundColor: '#000', borderColor: '#000'},
    {type: 'scatter', data: gasOtherDays.map((d, i) => ({x: d, y: gasOtherMean[i]})), pointStyle: 'triangle', rotation: 180, pointRadius: 4.5, backgroundColor: '#000', borderColor: '#000'}
  ], [gasErrorBars]);

// ③ tilt records
const tiltDecor = {
  id: 'tiltDecor',
  beforeDatasetsDraw(chart) {
    const {ctx, chartArea: a} = chart, x = chart.scales.x;
    ctx.save();
    ctx.strokeStyle = '#9a9a9a'; ctx.lineWidth = 1; ctx.setLineDash([1, 2]);
    ctx.beginPath();
    MONTH_STARTS.slice(1, -1).forEach(v => {
      const px = Math.round(x.getPixelForValue(v)) + 0.5;
      ctx.moveTo(px, a.top + 47); ctx.lineTo(px, a.bottom);
    });
    ctx.stroke();
    ctx.restore();
  },
  afterDraw(chart) {
    const {ctx, chartArea: a} = chart, y = chart.scales.y;
    // 10 µrad scale arrow
    const len = y.getPixelForValue(0) - y.getPixelForValue(10);
    const px = a.left + 61, top = a.top + 37;
    ctx.save();
    ctx.strokeStyle = '#000'; ctx.lineWidth = 2;
    ctx.beginPath(); ctx.moveTo(px, top + 2); ctx.lineTo(px, top + len); ctx.stroke();
    ctx.beginPath(); ctx.moveTo(px - 5, top + 9); ctx.lineTo(px, top); ctx.lineTo(px + 5, top + 9); ctx.stroke();
    ctx.restore();
  }
};
makeChart('c3', 33, 32, 71, false,
  {x: xAxis(false), y: {type: 'linear', display: false, min: 0, max: 73.7}},
  [
    {type: 'scatter', data: tremorDays.map(d => ({x: d, y: 71.4})), pointStyle: 'cross', pointRadius: 5, borderWidth: 2.2, borderColor: '#14148c', order: 0},
    {type: 'line', data: pts(tiltFujiEW), borderColor: '#2aa8e2', borderWidth: 1.5, pointRadius: 0, order: 1},
    {type: 'line', data: pts(tiltFujiNS), borderColor: '#3ee63e', borderWidth: 1.5, pointRadius: 0, order: 1},
    {type: 'line', data: pts(tiltRiverEW), borderColor: '#2aa8e2', borderWidth: 1.5, pointRadius: 0, order: 1},
    {type: 'line', data: pts(tiltRiverNS), borderColor: '#3ee63e', borderWidth: 1.5, pointRadius: 0, order: 1},
    {type: 'line', data: pts(pressureTrace), borderColor: '#8a8a8a', borderWidth: 1.2, pointRadius: 0, order: 2},
    {type: 'bar', data: rainHourly.map(([d, mm]) => ({x: d, y: mm * 0.2})), backgroundColor: '#2a9fd0', barThickness: 1.5, grouped: false, order: 3}
  ], [tiltDecor]);

// ④ daily earthquake counts
makeChart('c4', 37, 37, 0, true,
  {x: xAxis(true), y: leftAxis(0, 120, 30), y2: rightAxis(0, 600, 150)},
  [
    {type: 'scatter', data: tremorDays.map(d => ({x: d, y: 110.7})), pointStyle: 'cross', pointRadius: 5, borderWidth: 2.2, borderColor: '#14148c', order: 0},
    {type: 'line', yAxisID: 'y2', data: pts(quake10Day), borderColor: '#ff2020', borderWidth: 1.6, pointRadius: 0, order: 1},
    {type: 'bar', data: quakeCounts.map((c, i) => ({x: i, y: c})).filter(p => p.y > 0), backgroundColor: '#000', barThickness: 2.2, grouped: false, order: 2}
  ]);

// ⑤ amplitudes
const ampPoints = pts(ampQuiet)
  .concat(ampDailyMax.map((v, i) => ({x: ampFirstDay + i, y: v})))
  .concat(ampDailyLow.map((v, i) => ({x: ampFirstDay + i + 0.5, y: v})));
makeChart('c5', 31, 33, 0, true,
  {x: xAxis(true), y: leftAxis(0, 10, 5), y2: rightAxis(0, 400, 100)},
  [
    {type: 'scatter', data: ampPoints, pointRadius: 3, backgroundColor: '#000', borderColor: '#000', borderWidth: 0, order: 0},
    {type: 'line', yAxisID: 'y2', data: pts(ampCumulative), borderColor: '#1432ff', borderWidth: 2.5, pointRadius: 0, order: 1}
  ]);

// ⑥ GNSS baseline
makeChart('c6', 35, 26, 0, false,
  {x: xAxis(true), y: leftAxis(-2, 2, 1)},
  [
    {type: 'scatter', data: pts(gnssFinal), pointRadius: 2, backgroundColor: '#000', borderColor: '#000', borderWidth: 0},
    {type: 'scatter', data: pts(gnssPreliminary), pointRadius: 2.2, backgroundColor: '#fff', borderColor: '#000', borderWidth: 0.8}
  ]);
</script>
</body>
</html>
